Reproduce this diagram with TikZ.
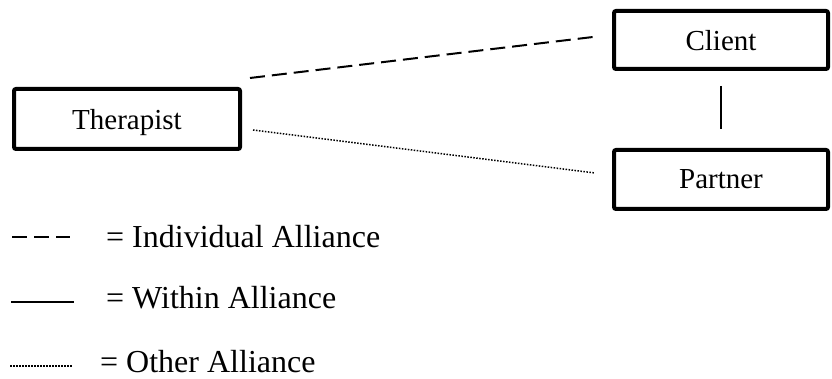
\documentclass[tikz,border=0pt]{standalone}
\usepackage{fontspec}
\setmainfont{Liberation Serif}
\usetikzlibrary{positioning}

\begin{document}
\begin{tikzpicture}[x=1pt,y=1pt,
    party/.style={draw,line width=4pt,rounded corners=2pt,minimum width=214pt,minimum height=58pt,text depth=0pt,font=\fontsize{29}{32}\selectfont},
    indiv/.style={line width=2pt,dash pattern=on 15pt off 7pt},
    within/.style={line width=2pt},
    other/.style={line width=1.5pt,dash pattern=on 1.5pt off 1.5pt},
    legtext/.style={anchor=west,inner sep=0pt,font=\fontsize{32}{36}\selectfont}]
   \useasboundingbox (0,0) rectangle (832,379);
   \node[party,minimum width=226pt,minimum height=60pt] (therapist) at (127,260) {Therapist};
   \node[party] (client) at (721,339) {Client};
   \node[party,minimum height=59pt] (partner) at (721,199.5) {Partner};
   % free ends of the alliance lines
   \coordinate (indA) at (250,301);
   \coordinate (indB) at (593,342);
   \coordinate (othA) at (253,249);
   \coordinate (othB) at (595,206);
   \draw[indiv] (indA) -- (indB);
   \draw[other] (othA) -- (othB);
   \draw[within,shorten <=15pt,shorten >=19pt] (client) -- (partner);
   % legend
   \coordinate (keyA) at (12,142);
   \coordinate (keyB) at (11,77);
   \coordinate (keyC) at (10,13);
   \node[legtext] (indlabel) at (106,142) {= Individual Alliance};
   \node[legtext] (withlabel) at (106,81) {= Within Alliance};
   \node[legtext] (othlabel) at (100,17) {= Other Alliance};
   \draw[indiv] (keyA) -- ++(58,0);
   \draw[within] (keyB) -- ++(63,0);
   \draw[other] (keyC) -- ++(62,0);
\end{tikzpicture}
\end{document}
